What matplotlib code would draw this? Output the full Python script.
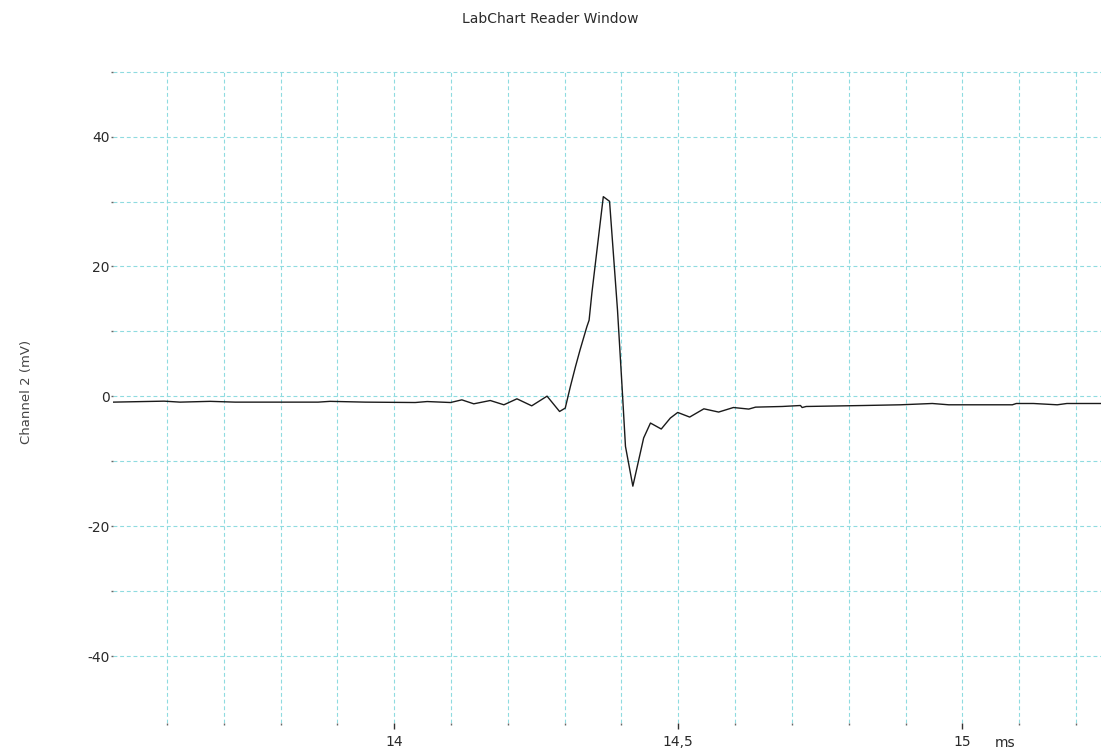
import matplotlib
matplotlib.use('Agg')
import matplotlib.pyplot as plt
from matplotlib.ticker import MultipleLocator, FixedLocator
import numpy as np

# channel 2 trace, vertices of the recorded waveform (ms, mV)
t_ms = [13.505, 13.595, 13.623, 13.676, 13.720, 13.866, 13.887, 13.949,
        14.037, 14.058, 14.099, 14.119, 14.140, 14.169, 14.193, 14.216,
        14.242, 14.269, 14.291, 14.301, 14.310, 14.319, 14.327, 14.339,
        14.343, 14.348, 14.368, 14.379, 14.393, 14.401, 14.407, 14.420,
        14.439, 14.451, 14.470, 14.486, 14.499, 14.520, 14.545, 14.571,
        14.597, 14.624, 14.636, 14.683, 14.715, 14.718, 14.725, 14.826,
        14.891, 14.947, 14.976, 15.088, 15.095, 15.125, 15.167, 15.184,
        15.244]
ch2_mv = [-0.89, -0.74, -0.89, -0.77, -0.89, -0.89, -0.77, -0.89,
          -0.95, -0.80, -0.95, -0.54, -1.15, -0.64, -1.30, -0.38,
          -1.46, 0.03, -2.33, -1.81, 1.50, 4.57, 7.13, 10.71,
          11.73, 16.0, 30.75, 30.03, 13.27, 1.50, -7.70, -13.83,
          -6.41, -4.11, -5.03, -3.34, -2.48, -3.19, -1.92, -2.42,
          -1.72, -1.96, -1.66, -1.56, -1.41, -1.72, -1.56, -1.41,
          -1.30, -1.10, -1.30, -1.30, -1.10, -1.10, -1.30, -1.10,
          -1.10]

x_ticks = [14, 14.5, 15]
x_labels = ['14', '14,5', '15']
y_ticks = [-40, -20, 0, 20, 40]
y_labels = ['-40', '-20', '0', '20', '40']
y_minor = [-30, -10, 10, 30, 50]

plt.rcParams['font.family'] = 'DejaVu Sans'
grid_col = '#8fdbe0'

fig = plt.figure(figsize=(11.01, 7.53), dpi=100)
ax = fig.add_axes([113/1101., 30/753., 988/1101., 652/753.])

ax.plot(t_ms, ch2_mv, color='#1a1a1a', lw=1.0, zorder=3)

ax.set_xlim(13.505, 15.244)
ax.set_ylim(-50.3, 50.1)

for s in ax.spines.values():
    s.set_visible(False)

ax.xaxis.set_major_locator(FixedLocator(x_ticks))
ax.set_xticklabels(x_labels)
ax.xaxis.set_minor_locator(MultipleLocator(0.1))
ax.yaxis.set_major_locator(FixedLocator(y_ticks))
ax.set_yticklabels(y_labels)
ax.yaxis.set_minor_locator(FixedLocator(y_minor))

ax.tick_params(axis='x', which='major', length=4, width=1, color='#333333',
               pad=5, labelsize=10, labelcolor='#2a2a2a')
ax.tick_params(axis='x', which='minor', length=1.5, width=1, color='#666666')
ax.tick_params(axis='y', which='both', length=1.5, width=1, color='#666666',
               pad=1, labelsize=10, labelcolor='#2a2a2a')

ax.grid(True, which='both', color=grid_col, lw=0.8, linestyle=(0, (3.5, 2.5)))
ax.set_axisbelow(True)

fig.text(0.5, 1 - 19/753., 'LabChart Reader Window', ha='center', va='center',
         fontsize=10, color='#2a2a2a')
fig.text(27/1101., 1 - 392/753., 'Channel 2 (mV)', rotation=90, ha='center',
         va='center', fontsize=9.5, color='#444444')
fig.text(1005/1101., 1 - 747/753., 'ms', ha='center', va='baseline',
         fontsize=10, color='#2a2a2a')

fig.savefig('out.png', dpi=100)
